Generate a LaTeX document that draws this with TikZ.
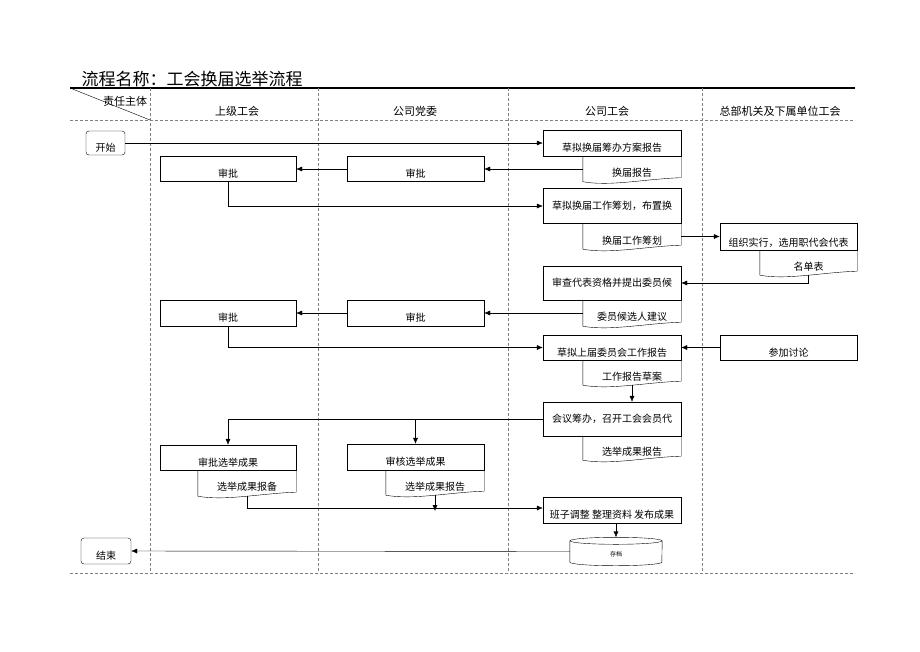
\documentclass[tikz,border=0pt]{standalone}
\usepackage{fontspec}
\usepackage{tikz}
\usetikzlibrary{arrows.meta}
\newfontfamily\cjk{Noto Sans CJK SC}
\tikzset{
    flow-box/.style = {draw, thin, rectangle, inner sep=1pt, font=\cjk\fontsize{10}{11}\selectfont},
    doc-box/.style = {rectangle, inner sep=1pt, text height=15pt, text depth=0pt, font=\cjk\fontsize{10}{11}\selectfont},
    term-box/.style = {draw, thin, rectangle, rounded corners=3pt, inner sep=1pt, font=\cjk\fontsize{10}{11}\selectfont},
    low-text/.style = {text height=17pt, text depth=0pt},
    head-text/.style = {font=\cjk\fontsize{11}{12}\selectfont},
    lane-line/.style = {densely dashed, gray, thin},
    flow-arrow/.style = {thin, -{Latex[length=6pt,width=5pt]}},
}

\begin{document}
\begin{tikzpicture}[x=1pt,y=-1pt]
\useasboundingbox (0,0) rectangle (920,651);

% frame and lanes
\node[anchor=west, font=\cjk\fontsize{17}{19}\selectfont] (title) at (78,79) {流程名称：工会换届选举流程};
\draw[line width=1.2pt] (70,88) -- (855,88);
\draw[lane-line] (70,120) -- (855,120);
\draw[lane-line] (70,573) -- (855,573);
\foreach \x in {150,318,508,702}
    \draw[lane-line] (\x,88) -- (\x,573);
\draw[thin] (70,88) -- (150,120);
\node[head-text] (owner) at (125,101) {责任主体};
\node[head-text] (laneA) at (237,111) {上级工会};
\node[head-text] (laneB) at (415,111) {公司党委};
\node[head-text] (laneC) at (607,111) {公司工会};
\node[head-text] (laneD) at (780,111) {总部机关及下属单位工会};

% steps
\node[term-box, low-text, minimum width=39pt, minimum height=24pt] (start) at (105.5,143) {开始};
\node[flow-box, low-text, minimum width=138pt, minimum height=26pt] (prep) at (612,143) {草拟换届筹办方案报告};
\node[doc-box, minimum width=98pt, minimum height=25pt] (prepdoc) at (632,169) {换届报告};
\node[flow-box, low-text, minimum width=137pt, minimum height=25pt] (apprB) at (415.5,169) {审批};
\node[flow-box, low-text, minimum width=136pt, minimum height=25pt] (apprA) at (228,169) {审批};
\node[flow-box, minimum width=138pt, minimum height=35pt] (plan) at (612,206) {草拟换届工作筹划，布置换};
\node[doc-box, minimum width=98pt, minimum height=25pt] (plandoc) at (632,236.5) {换届工作筹划};
\node[flow-box, text height=20pt, text depth=0pt, minimum width=137pt, minimum height=27pt] (org) at (788.5,236.5) {组织实行，选用职代会代表};
\node[doc-box, minimum width=97pt, minimum height=25pt] (orgdoc) at (808.5,262.5) {名单表};
\node[flow-box, minimum width=138pt, minimum height=34pt] (review) at (612,283) {审查代表资格并提出委员候};
\node[doc-box, minimum width=98pt, minimum height=26pt] (reviewdoc) at (632,313) {委员候选人建议};
\node[flow-box, low-text, minimum width=137pt, minimum height=26pt] (apprD) at (415.5,313) {审批};
\node[flow-box, low-text, minimum width=136pt, minimum height=26pt] (apprC) at (228,313) {审批};
\node[flow-box, low-text, minimum width=138pt, minimum height=25pt] (draft) at (612,347.5) {草拟上届委员会工作报告};
\node[doc-box, minimum width=98pt, minimum height=25pt] (draftdoc) at (632,372.5) {工作报告草案};
\node[flow-box, low-text, minimum width=137pt, minimum height=25pt] (discuss) at (788.5,347.5) {参加讨论};
\node[flow-box, minimum width=138pt, minimum height=34pt] (meet) at (612,419) {会议筹办，召开工会会员代};
\node[doc-box, minimum width=98pt, minimum height=24pt] (meetdoc) at (632,448) {选举成果报告};
\node[flow-box, low-text, minimum width=136pt, minimum height=25pt] (ratify) at (228,457.5) {审批选举成果};
\node[doc-box, minimum width=98pt, minimum height=26pt] (ratifydoc) at (247,483) {选举成果报备};
\node[flow-box, low-text, minimum width=137pt, minimum height=26pt] (check) at (415.5,457) {审核选举成果};
\node[doc-box, minimum width=98pt, minimum height=25pt] (checkdoc) at (435,482.5) {选举成果报告};
\node[flow-box, low-text, minimum width=138pt, minimum height=26pt] (publish) at (612,510) {班子调整 整理资料 发布成果};
\node[doc-box, font=\cjk\fontsize{6}{7}\selectfont, text height=9pt, minimum width=92pt, minimum height=21pt] (archive) at (616,551.5) {存档};
\node[term-box, low-text, minimum width=50pt, minimum height=26pt] (finish) at (106,551) {结束};
\path (publish.west) ++(0,-2) coordinate (merge);

% document shapes
\foreach \d in {prepdoc,plandoc,orgdoc,reviewdoc,draftdoc,meetdoc,ratifydoc,checkdoc}
    \draw[thin] (\d.north west) -- (\d.south west)
        .. controls ([xshift=-22pt,yshift=-5pt]\d.south) and ([xshift=15pt,yshift=3pt]\d.south)
        .. ([yshift=4pt]\d.south east) -- (\d.north east);

% archive drum
\draw[thin] (archive.north west) -- (archive.south west)
    arc[start angle=180, end angle=360, x radius=46pt, y radius=3.5pt] -- (archive.north east);
\draw[thin] (archive.north) ellipse [x radius=46pt, y radius=3.5pt];

% connectors
\draw[flow-arrow] (start.east) -- (start.east -| prep.west);
\draw[flow-arrow] (prepdoc.west) -- (apprB.east);
\draw[flow-arrow] (apprB.west) -- (apprA.east);
\draw[flow-arrow] (apprA.south) |- (plan.west);
\draw[flow-arrow] (plandoc.east) -- (org.west);
\draw[flow-arrow] (orgdoc.south) |- (review.east);
\draw[flow-arrow] (reviewdoc.west) -- (apprD.east);
\draw[flow-arrow] (apprD.west) -- (apprC.east);
\draw[flow-arrow] (apprC.south) |- (draft.west);
\draw[flow-arrow] (discuss.west) -- (draft.east);
\draw[flow-arrow] (draftdoc.south) -- (draftdoc.south |- meet.north);
\draw[flow-arrow] (meet.west) -| (ratify.north);
\draw[flow-arrow] (check.north |- meet.west) -- (check.north);
\draw[flow-arrow] (ratifydoc.south) |- (merge);
\draw[flow-arrow] (checkdoc.south) -- ([yshift=-3pt]checkdoc.south |- merge);
\draw[flow-arrow] (archive.north |- publish.south) -- ([yshift=3.5pt]archive.north);
\draw[flow-arrow] (archive.west) -- (finish.east);
\end{tikzpicture}
\end{document}
